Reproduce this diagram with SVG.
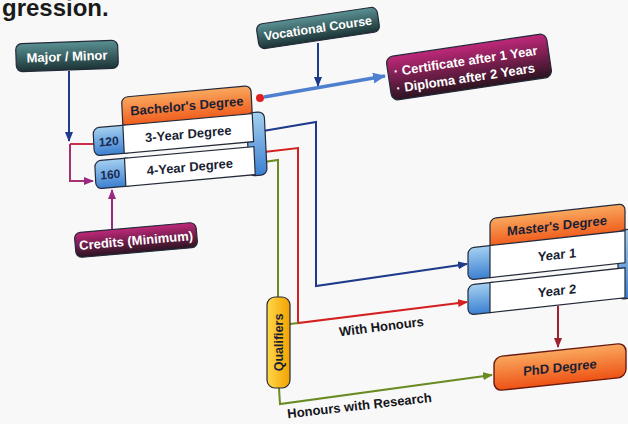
<svg xmlns="http://www.w3.org/2000/svg" width="628" height="424" viewBox="0 0 628 424">
<defs>
<linearGradient id="gTeal" x1="0" y1="0" x2="0" y2="1"><stop offset="0" stop-color="#5a9193"/><stop offset="1" stop-color="#1c3335"/></linearGradient>
<linearGradient id="gMag" x1="0" y1="0" x2="0" y2="1"><stop offset="0" stop-color="#c0287a"/><stop offset="1" stop-color="#2a1420"/></linearGradient>
<linearGradient id="gOrg" x1="0" y1="0" x2="0" y2="1"><stop offset="0" stop-color="#f9a85e"/><stop offset="1" stop-color="#ee5214"/></linearGradient>
<linearGradient id="gBlue" x1="0" y1="0" x2="0" y2="1"><stop offset="0" stop-color="#a4d0f0"/><stop offset="1" stop-color="#3c80d2"/></linearGradient>
<linearGradient id="gYel" x1="0" y1="0" x2="1" y2="0"><stop offset="0" stop-color="#ffd84a"/><stop offset="1" stop-color="#f2a200"/></linearGradient>
<marker id="aNavy" markerUnits="userSpaceOnUse" markerWidth="10" markerHeight="8" refX="9" refY="4" orient="auto"><path d="M0,0 L10,4 L0,8 z" fill="#1e3a8a"/></marker>
<marker id="aRed" markerUnits="userSpaceOnUse" markerWidth="10" markerHeight="8" refX="9" refY="4" orient="auto"><path d="M0,0 L10,4 L0,8 z" fill="#d42020"/></marker>
<marker id="aDRed" markerUnits="userSpaceOnUse" markerWidth="10" markerHeight="8" refX="9" refY="4" orient="auto"><path d="M0,0 L10,4 L0,8 z" fill="#a02030"/></marker>
<marker id="aGreen" markerUnits="userSpaceOnUse" markerWidth="10" markerHeight="8" refX="9" refY="4" orient="auto"><path d="M0,0 L10,4 L0,8 z" fill="#6a8a22"/></marker>
<marker id="aPurp" markerUnits="userSpaceOnUse" markerWidth="10" markerHeight="8" refX="9" refY="4" orient="auto"><path d="M0,0 L10,4 L0,8 z" fill="#9a2a80"/></marker>
<marker id="aLBlue" markerUnits="userSpaceOnUse" markerWidth="13" markerHeight="11" refX="12" refY="5.5" orient="auto"><path d="M0,0 L13,5.5 L0,11 z" fill="#4f80d0"/></marker>
</defs>
<style>
text{font-family:"Liberation Sans",Arial,sans-serif;font-weight:bold}
.wt{fill:#ffffff;font-size:13px;text-anchor:middle}
.dk{fill:#1a1f33;font-size:13px;text-anchor:middle}
.num{fill:#1a2a50;font-size:12px;text-anchor:middle}
.lbl{fill:#15151a;font-size:13px;text-anchor:middle}
.ol{stroke:#242a3a;stroke-width:1.2}
.ln{fill:none;stroke-width:2}
</style>
<rect width="628" height="424" fill="#f8f8f8"/>
<text x="2" y="16" style="font-size:24px;fill:#1a1a1a">gression.</text>

<g id="connectors">
<path class="ln" d="M69,71 V141" stroke="#1e3a8a" marker-end="url(#aNavy)"/>
<path class="ln" d="M94,144 H70" stroke="#c8304a"/>
<path class="ln" d="M70,144 V181 H93" stroke="#a8306e" marker-end="url(#aPurp)"/>
<path class="ln" d="M112,231 V190" stroke="#9a2a80" marker-end="url(#aPurp)"/>
<path class="ln" d="M318,43 V86" stroke="#1e3a8a" marker-end="url(#aNavy)"/>
<path fill="none" d="M264,97 L385,76" stroke="#4f80d0" stroke-width="3.5" marker-end="url(#aLBlue)"/>
<circle cx="260" cy="98" r="4" fill="#e02020"/>
<path class="ln" d="M263,131 L316,122 V286 L467,264" stroke="#1e3a8a" marker-end="url(#aNavy)"/>
<path class="ln" d="M264,152 L298,148 V323 L467,302" stroke="#d42020" marker-end="url(#aRed)"/>
<path class="ln" d="M264,162 L278,160 V297" stroke="#6a8a22"/>
<path class="ln" d="M290,324 L298,323" stroke="#6a8a22"/>
<path class="ln" d="M279,388 L280,404 L492,375" stroke="#6a8a22" marker-end="url(#aGreen)"/>
<path class="ln" d="M558,306 V347" stroke="#a02030" marker-end="url(#aDRed)"/>
<text class="lbl" transform="translate(382,331) rotate(-7)">With Honours</text>
<text class="lbl" transform="translate(360,410) rotate(-6.5)">Honours with Research</text>
</g>

<g id="major-minor" transform="translate(67,56) rotate(-2)">
<rect x="-51" y="-14" width="102" height="28" rx="6" fill="url(#gTeal)" class="ol"/>
<text class="wt" y="5">Major / Minor</text>
</g>

<g id="vocational" transform="translate(318,28) rotate(-8.5)">
<rect x="-61" y="-12.5" width="122" height="25" rx="6" fill="url(#gTeal)" class="ol"/>
<text class="wt" y="4.5" style="font-size:12.5px">Vocational Course</text>
</g>

<g id="certificate" transform="translate(469,67) rotate(-8.5)">
<rect x="-81" y="-22" width="162" height="44" rx="7" fill="url(#gMag)" class="ol"/>
<text x="-75" y="-2" style="fill:#fff;font-size:13px">·</text>
<text x="-67" y="-2" style="fill:#fff;font-size:13px">Certificate after 1 Year</text>
<text x="-75" y="15" style="fill:#fff;font-size:13px">·</text>
<text x="-67" y="15" style="fill:#fff;font-size:13px">Diploma after 2 Years</text>
</g>

<g id="bachelor" transform="matrix(0.995,-0.09,0.05,1,93,128)">
<rect x="30" y="-28" width="130" height="33" rx="6" fill="url(#gOrg)" class="ol"/>
<rect x="154" y="-1" width="18" height="63" rx="6" fill="url(#gBlue)" class="ol"/>
<rect x="0" y="0" width="38" height="28" rx="6" fill="url(#gBlue)" class="ol"/>
<rect x="30" y="0" width="130" height="28" fill="#ffffff" class="ol"/>
<rect x="0" y="33" width="38" height="28" rx="6" fill="url(#gBlue)" class="ol"/>
<rect x="30" y="33" width="130" height="28" fill="#ffffff" class="ol"/>
<text class="dk" x="95" y="-9">Bachelor's Degree</text>
<text class="dk" x="95" y="19">3-Year Degree</text>
<text class="dk" x="95" y="52">4-Year Degree</text>
<text class="num" x="15" y="19">120</text>
<text class="num" x="15" y="52">160</text>
</g>

<g id="credits" transform="translate(136,240) rotate(-5)">
<rect x="-61" y="-12.5" width="122" height="25" rx="6" fill="url(#gMag)" class="ol"/>
<text class="wt" y="5">Credits (Minimum)</text>
</g>

<g id="masters" transform="matrix(1,-0.11,0,1,468,248)">
<rect x="22" y="-27" width="135" height="32" rx="6" fill="url(#gOrg)" class="ol"/>
<rect x="150" y="-1" width="22" height="69" rx="6" fill="url(#gBlue)" class="ol"/>
<rect x="0" y="0" width="30" height="32" rx="6" fill="url(#gBlue)" class="ol"/>
<rect x="22" y="0" width="135" height="32" fill="#ffffff" class="ol"/>
<rect x="0" y="37" width="30" height="30" rx="6" fill="url(#gBlue)" class="ol"/>
<rect x="22" y="37" width="135" height="30" fill="#ffffff" class="ol"/>
<text class="dk" x="89" y="-8">Master's Degree</text>
<text class="dk" x="89" y="21">Year 1</text>
<text class="dk" x="89" y="57">Year 2</text>
</g>

<g id="qualifiers">
<rect x="267" y="297" width="23" height="91" rx="8" fill="url(#gYel)" class="ol"/>
<text class="dk" transform="translate(283,342.5) rotate(-90)" style="font-size:12.5px">Qualifiers</text>
</g>

<g id="phd" transform="matrix(1,-0.105,0,1,560,367)">
<rect x="-66" y="-17" width="132" height="34" rx="8" fill="url(#gOrg)" stroke="#6a1a10" stroke-width="1.4"/>
<text class="dk" y="5">PhD Degree</text>
</g>
</svg>
